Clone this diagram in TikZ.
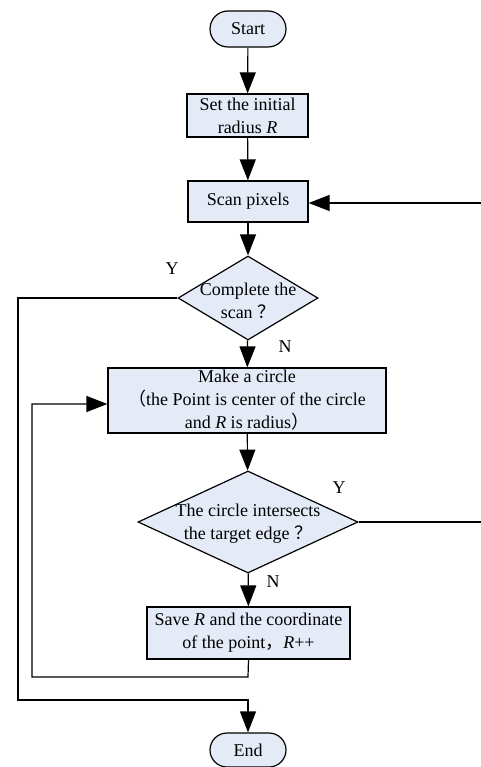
\documentclass[tikz,border=0pt]{standalone}
\usepackage{fontspec}
\setmainfont{Liberation Serif}
\newfontfamily\cjk{Noto Sans CJK SC}
\usetikzlibrary{arrows.meta,shapes.geometric,shapes.misc}
\definecolor{boxblue}{RGB}{228,235,247}

\begin{document}
\begin{tikzpicture}[x=1pt,y=-1pt,
    font=\fontsize{18}{23}\selectfont,
    line width=1.2pt,
    term/.style={draw,fill=boxblue,rounded rectangle,minimum width=76pt,minimum height=36pt,inner sep=0pt},
    proc/.style={draw,fill=boxblue,rectangle,align=center,inner sep=0pt},
    decide/.style={draw,fill=boxblue,diamond,inner sep=0pt},
    flow/.style={-{Triangle[length=21pt,width=16pt]}}]
            \useasboundingbox (0,0) rectangle (481,767);

            \node[term] (start) at (248,29) {Start};
            \node[proc,minimum width=121pt,minimum height=43pt] (init) at (247.5,115.5) {Set the initial\\radius \textit{R}};
            \node[proc,minimum width=120pt,minimum height=41pt] (scan) at (248,201.5) {Scan pixels};
            \node[decide,minimum width=140pt,minimum height=84pt] (done) at (248,298) {};
            \node[align=center,inner sep=0pt] (donetext) at (248,301) {Complete the\\scan {\cjk ？}};
            \node[proc,minimum width=278pt,minimum height=65pt] (circle) at (247,400.5) {Make a circle\\{\cjk （}the Point is center of the circle\\and \textit{R} is radius{\cjk ）}};
            \node[decide,minimum width=220pt,minimum height=102pt] (hit) at (248,522) {};
            \node[align=center,inner sep=0pt] (hittext) at (248,524) {The circle intersects\\the target edge {\cjk ？}};
            \node[proc,minimum width=203pt,minimum height=52pt] (save) at (248.5,633) {Save \textit{R} and the coordinate\\of the point{\cjk ，}\textit{R}++};
            \node[term,minimum height=34pt] (end) at (248,750) {End};

            \node (y1) at (172,269) {Y};
            \node (n1) at (285,347) {N};
            \node (y2) at (339,488) {Y};
            \node (n2) at (273,582) {N};

            \coordinate (back) at (481,203);
            \coordinate (out) at (481,522);

            \draw[flow] (start) -- (init);
            \draw[flow] (init) -- (scan);
            \draw[flow] (scan) -- (done);
            \draw[flow] (done) -- (circle);
            \draw[flow] (circle) -- (hit);
            \draw[flow] (hit) -- (save);
            \draw[flow] (back) -- (scan.east |- back);
            \draw (hit.east) -- (out);
            \draw[flow] (save.south) -- (248,677) -- (32,677) -- (32,404) -- (circle.west |- 0,404);
            \draw[flow] (done.west) -- (18,298) -- (18,700) -- (248,700) -- (end.north);
        \end{tikzpicture}
\end{document}
